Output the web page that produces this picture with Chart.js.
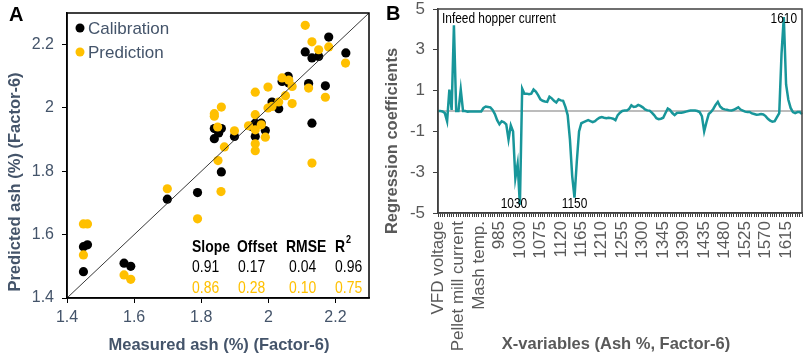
<!DOCTYPE html>
<html>
<head>
<meta charset="utf-8">
<script src="https://cdn.jsdelivr.net/npm/chart.js@4.4.1/dist/chart.umd.min.js"></script>
<style>
  html,body{margin:0;padding:0;background:#fff;}
  #wrap{position:relative;width:809px;height:359px;overflow:hidden;}
  #chartA{position:absolute;left:0;top:0;}
  #chartB{position:absolute;left:378px;top:0;}
</style>
</head>
<body>
<div id="wrap">
  <canvas id="chartA" width="378" height="359"></canvas>
  <canvas id="chartB" width="431" height="359"></canvas>
</div>
<script>
// ---- Panel A: measured vs predicted ash ----
const calX = [2.180,2.110,2.130,2.150,2.231,2.059,2.041,2.061,2.120,2.170,2.011,2.031,2.130,1.839,1.860,1.839,1.852,1.899,1.961,1.961,1.979,1.991,1.949,1.860,1.789,1.699,1.570,1.590,1.449,1.461,1.449];
const calY = [2.224,2.177,2.158,2.163,2.174,2.100,2.084,2.079,2.077,2.070,2.019,1.998,1.952,1.935,1.935,1.903,1.921,1.910,1.952,1.910,1.952,1.929,1.942,1.798,1.733,1.712,1.510,1.500,1.562,1.568,1.483];
const predX = [2.110,2.130,2.150,2.180,2.230,2.041,2.061,2.071,2.120,2.170,1.999,1.961,2.051,2.071,2.031,2.011,1.999,1.860,1.839,1.839,1.849,1.899,1.941,1.961,1.961,1.979,1.991,1.961,1.961,1.869,1.850,2.130,1.859,1.789,1.699,1.570,1.590,1.449,1.461,1.449];
const predY = [2.261,2.209,2.184,2.193,2.142,2.095,2.088,2.068,2.063,2.034,2.066,2.050,2.039,2.014,2.019,2.005,2.000,2.003,1.982,1.974,1.940,1.928,1.944,1.979,1.931,1.947,1.908,1.887,1.865,1.877,1.834,1.826,1.736,1.650,1.745,1.473,1.459,1.634,1.634,1.536];
const oneToOne = [1.4, 2.3];
const ticksA = [1.4, 1.6, 1.8, 2, 2.2];

const statHeads = ["Slope", "Offset", "RMSE", "R"];
const slope = [0.91, 0.86];
const offset = [0.17, 0.28];
const rmse = [0.04, 0.10];
const r2 = [0.96, 0.75];

// ---- Panel B: regression coefficients ----
const processVars = ["VFD voltage","Process var 2","Process var 3","Process var 4","Process var 5","Process var 6","Process var 7",
  "Infeed hopper current","Process var 9","Pellet mill current","Process var 11","Process var 12","Process var 13",
  "Process var 14","Process var 15","Process var 16","Process var 17","Process var 18","Mash temp.","Process var 20"];
const waveStart = 950, waveEnd = 1650, waveStep = 5;
const wavelengths = [];
for (let w = waveStart; w <= waveEnd; w += waveStep) wavelengths.push(String(w));
const xLabels = processVars.concat(wavelengths);
const labelEvery = 9;

const coefs = [
  0.0, 0.0, -0.02, -0.1, -0.5, 1.05, 0.05, 4.2, 0.0, 0.0,
  1.05, 0.0, 0.0, -0.03, -0.02, -0.03, -0.02, -0.02, -0.02, -0.02,
  0.15, 0.22, 0.2, 0.18, 0.05, -0.15, -0.45, -0.65, -0.5, -0.55,
  -0.65, -1.4, -0.7, -1.0, -3.3, -2.6, -4.6, 1.1, 0.85, 0.85,
  0.82, 0.85, 1.05, 0.95, 0.78, 0.57, 0.5, 0.47, 0.45, 0.7,
  0.62, 0.5, 0.42, 0.57, 0.52, 0.5, 0.2, -0.2, -1.4, -3.2,
  -4.25, -2.5, -1.0, -0.6, -0.55, -0.5, -0.45, -0.5, -0.55, -0.5,
  -0.4, -0.33, -0.3, -0.33, -0.35, -0.33, -0.35, -0.38, -0.45, -0.2,
  -0.08, 0.0, 0.02, 0.02, 0.1, 0.28, 0.2, 0.22, 0.3, 0.25,
  0.18, 0.08, 0.03, 0.02, -0.08, -0.2, -0.35, -0.4, -0.38, -0.33,
  -0.1, 0.12, 0.05, -0.1, -0.2, -0.1, -0.08, -0.08, -0.06, -0.03,
  0.0, 0.02, 0.02, 0.02, 0.0, -0.05, -0.25, -1.0, -0.55, -0.15,
  -0.05, 0.1, 0.3, 0.45, 0.22, 0.12, 0.08, 0.06, 0.03, 0.02,
  0.06, 0.12, 0.18, 0.07, 0.02, -0.03, -0.05, -0.05, -0.12, -0.15,
  -0.18, -0.17, -0.15, -0.17, -0.25, -0.38, -0.47, -0.52, -0.5, -0.3,
  -0.1, 2.8, 4.6, 1.3, 0.55, 0.15, -0.05, -0.1, -0.05, -0.05, -0.15
];
const ticksB = [-5, -3, -1, 1, 3, 5];
const peakLabels = ["1030", "1150", "1610"];

const slate = "#44546A", gray = "#595959", gold = "#FFC000", teal = "#18969A";
const sans = "'Liberation Sans', Arial, sans-serif";
const NARROW = 0.82; // Arial Narrow look: squeeze regular text horizontally

function txt(ctx, s, x, y, font, color, align, base, rot, squeeze){
  ctx.save();
  ctx.font = font; ctx.fillStyle = color;
  ctx.textAlign = align || "left"; ctx.textBaseline = base || "middle";
  ctx.translate(x, y);
  if (rot) ctx.rotate(rot);
  if (squeeze) ctx.scale(squeeze, 1);
  ctx.fillText(s, 0, 0);
  ctx.restore();
}

// fixed axis box sizes, no label overflow padding
const fixSize = (w, h) => s => {
  if (w != null) s.width = w;
  if (h != null) s.height = h;
  s.paddingTop = s.paddingBottom = s.paddingLeft = s.paddingRight = 0;
};

const frame = color => ({
  id: "frame",
  afterDraw(chart){
    const a = chart.chartArea, ctx = chart.ctx;
    ctx.save(); ctx.strokeStyle = color; ctx.lineWidth = 1.5;
    ctx.strokeRect(a.left, a.top, a.right - a.left, a.bottom - a.top);
    ctx.restore();
  }
});

const textA = {
  id: "textA",
  afterDraw(chart){
    const ctx = chart.ctx;
    txt(ctx, "A", 9, 15, "bold 20px " + sans, "#000");
    // legend
    [["Calibration", "#000", 28], ["Prediction", gold, 52]].forEach(([name, c, y]) => {
      ctx.beginPath(); ctx.fillStyle = c; ctx.arc(80, y, 4.5, 0, Math.PI*2); ctx.fill();
      txt(ctx, name, 88, y + 1, "17px " + sans, slate);
    });
    // stats table
    const cols = [192, 237, 286, 335];
    statHeads.forEach((h, i) => txt(ctx, h, cols[i], 247, "bold 17px " + sans, "#000", "left", "middle", 0, NARROW));
    txt(ctx, "2", 346, 240, "bold 11px " + sans, "#000", "left", "middle", 0, NARROW);
    [0, 1].forEach(r => {
      const color = r === 0 ? "#000" : gold, y = r === 0 ? 267 : 288;
      [slope, offset, rmse, r2].forEach((arr, i) =>
        txt(ctx, arr[r].toFixed(2), cols[i] + (i === 2 ? 3 : i === 1 ? 1 : 0), y, "17px " + sans, color, "left", "middle", 0, NARROW));
    });
    // axis titles
    txt(ctx, "Measured ash (%) (Factor-6)", 219, 345, "bold 16.5px " + sans, slate, "center");
    txt(ctx, "Predicted ash (%) (Factor-6)", 15, 182, "bold 16.5px " + sans, slate, "center", "middle", -Math.PI/2);
  }
};

new Chart(document.getElementById("chartA"), {
  type: "scatter",
  data: { datasets: [
    { label: "Prediction", data: predX.map((x, i) => ({ x, y: predY[i] })), backgroundColor: gold, borderWidth: 0, pointRadius: 4.6, order: 1 },
    { label: "Calibration", data: calX.map((x, i) => ({ x, y: calY[i] })), backgroundColor: "#000", borderWidth: 0, pointRadius: 4.6, order: 2 },
    { type: "line", label: "1:1", data: oneToOne.map(v => ({ x: v, y: v })), borderColor: "#222", borderWidth: 0.9, pointRadius: 0, order: 0 }
  ]},
  options: {
    responsive: false, animation: false, devicePixelRatio: 1,
    layout: { padding: { top: 13, right: 9, left: 0, bottom: 0 } },
    plugins: { legend: { display: false }, tooltip: { enabled: false } },
    scales: {
      x: {
        type: "linear", min: 1.4, max: 2.3,
        afterBuildTicks: s => { s.ticks = ticksA.map(v => ({ value: v })); },
        afterFit: fixSize(null, 61),
        ticks: { color: slate, font: { family: sans, size: 16 }, padding: 5, callback: v => String(+v.toFixed(1)) },
        grid: { drawOnChartArea: false, tickLength: 5, color: "#000", lineWidth: 1 },
        border: { color: "#000", width: 1.5 }
      },
      y: {
        type: "linear", min: 1.4, max: 2.3,
        afterBuildTicks: s => { s.ticks = ticksA.map(v => ({ value: v })); },
        afterFit: fixSize(67, null),
        ticks: { color: slate, font: { family: sans, size: 16 }, padding: 8, callback: v => String(+v.toFixed(1)) },
        grid: { drawOnChartArea: false, tickLength: 5, color: "#000", lineWidth: 1 },
        border: { color: "#000", width: 1.5 }
      }
    }
  },
  plugins: [frame("#000"), textA]
});

const zeroLine = {
  id: "zeroLine",
  beforeDatasetsDraw(chart){
    const a = chart.chartArea, ctx = chart.ctx, y0 = chart.scales.y.getPixelForValue(0);
    ctx.save(); ctx.strokeStyle = "#A6A6A6"; ctx.lineWidth = 1.5;
    ctx.beginPath(); ctx.moveTo(a.left, y0); ctx.lineTo(a.right, y0); ctx.stroke();
    ctx.restore();
  }
};

const textB = {
  id: "textB",
  afterDraw(chart){
    const ctx = chart.ctx, a = chart.chartArea, sx = chart.scales.x;
    const f = "14.5px " + sans;
    txt(ctx, "B", 8, 14, "bold 20px " + sans, "#000");
    txt(ctx, "Infeed hopper current", a.left + 4, a.top + 10, f, "#000", "left", "middle", 0, NARROW);
    txt(ctx, peakLabels[0], sx.getPixelForValue(xLabels.indexOf(peakLabels[0])) - 6, a.bottom - 9, f, "#000", "center", "middle", 0, NARROW);
    txt(ctx, peakLabels[1], sx.getPixelForValue(xLabels.indexOf(peakLabels[1])), a.bottom - 9, f, "#000", "center", "middle", 0, NARROW);
    txt(ctx, peakLabels[2], sx.getPixelForValue(xLabels.indexOf(peakLabels[2])), a.top + 10, f, "#000", "center", "middle", 0, NARROW);
    txt(ctx, "X-variables (Ash %, Factor-6)", 238, 344, "bold 16.5px " + sans, gray, "center");
    txt(ctx, "Regression coefficients", 14, 141, "bold 16.5px " + sans, gray, "center", "middle", -Math.PI/2);
  }
};

new Chart(document.getElementById("chartB"), {
  type: "line",
  data: { labels: xLabels, datasets: [
    { label: "Coefficients", data: coefs, borderColor: teal, borderWidth: 2.5, pointRadius: 0, tension: 0 }
  ]},
  options: {
    responsive: false, animation: false, devicePixelRatio: 1,
    layout: { padding: { top: 9, right: 7, left: 0, bottom: 0 } },
    plugins: { legend: { display: false }, tooltip: { enabled: false } },
    scales: {
      x: {
        offset: false,
        afterFit: fixSize(null, 146),
        ticks: { autoSkip: false, minRotation: 90, maxRotation: 90, color: gray, padding: 4,
                 font: { family: sans, size: 17 },
                 callback: (v, i) => i % labelEvery === 0 ? xLabels[i] : "" },
        grid: { drawOnChartArea: false, tickLength: 4, color: "#404040", lineWidth: 1 },
        border: { color: "#404040", width: 1.5 }
      },
      y: {
        min: -5, max: 5,
        afterBuildTicks: s => { s.ticks = ticksB.map(v => ({ value: v })); },
        afterFit: fixSize(60, null),
        ticks: { color: gray, font: { family: sans, size: 17 }, padding: 8 },
        grid: { drawOnChartArea: false, tickLength: 5, color: "#404040", lineWidth: 1 },
        border: { color: "#404040", width: 1.5 }
      }
    }
  },
  plugins: [zeroLine, frame("#404040"), textB]
});
</script>
</body>
</html>
